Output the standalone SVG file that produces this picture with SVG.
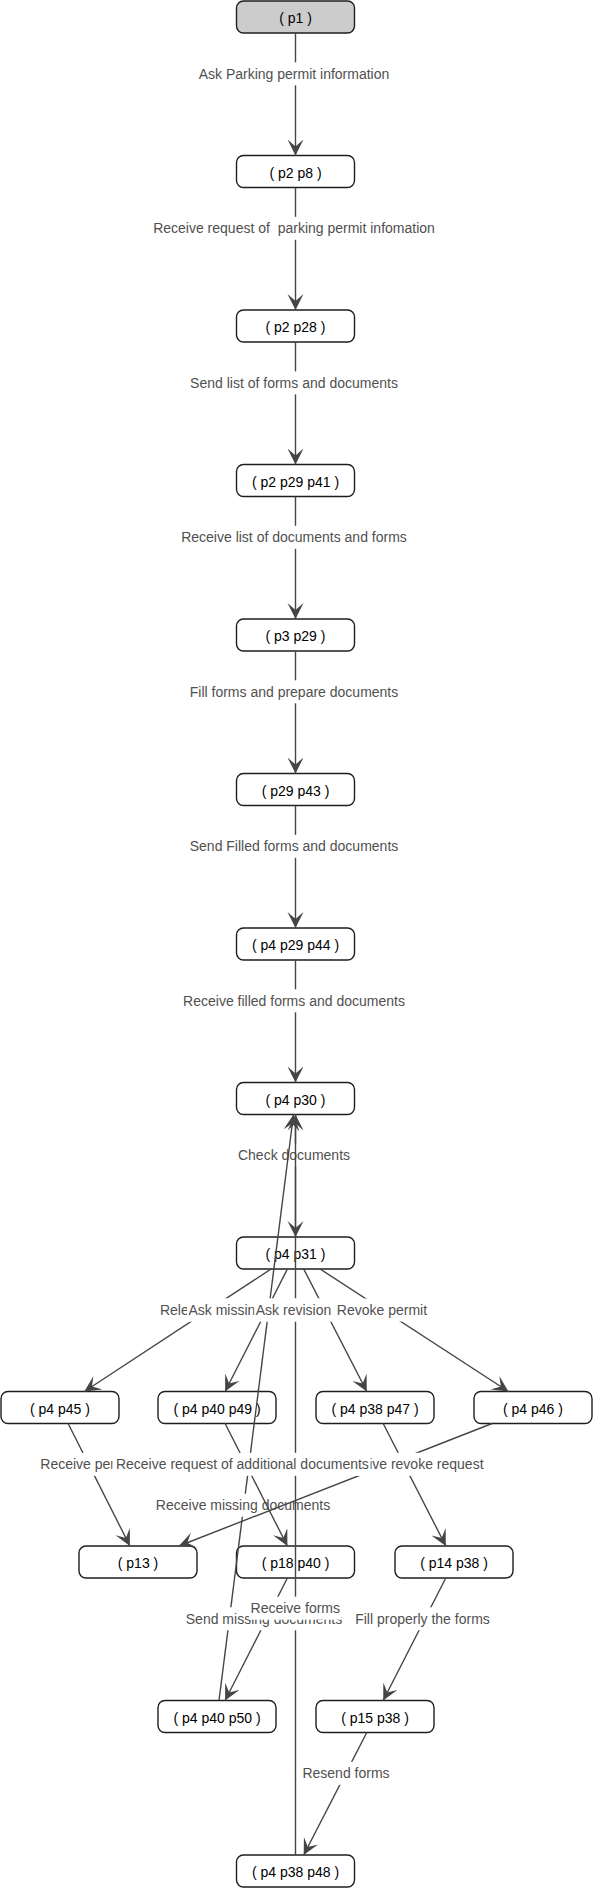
<svg xmlns="http://www.w3.org/2000/svg" width="593" height="1889" viewBox="0 0 593 1889">
<style>
.node rect{fill:#fff;stroke:#1e1e1e;stroke-width:1.4}
#n_p1 rect{fill:#cccccc}
.node text{font-family:"Liberation Sans",Arial,sans-serif;font-size:14px;fill:#000;text-anchor:middle}
.e{stroke:#454545;stroke-width:1.4;fill:none;marker-end:url(#arr)}
.lb{fill:#fff}
.lt{font-family:"Liberation Sans",Arial,sans-serif;font-size:14px;fill:#505050;text-anchor:middle}
</style>
<defs>
<marker id="arr" markerWidth="18" markerHeight="18" refX="16" refY="8" orient="auto" markerUnits="userSpaceOnUse">
<path d="M16,8 L0,0 L7,8 L0,16 Z" fill="#454545"/>
</marker>
</defs>
<g id="nodes">
<g id="n_p1" class="node"><rect x="236.5" y="1" width="118" height="32" rx="7"/><text x="295.5" y="23">( p1 )</text></g>
<g id="n_p2p8" class="node"><rect x="236.5" y="155.5" width="118" height="32" rx="7"/><text x="295.5" y="177.5">( p2 p8 )</text></g>
<g id="n_p2p28" class="node"><rect x="236.5" y="310" width="118" height="32" rx="7"/><text x="295.5" y="332">( p2 p28 )</text></g>
<g id="n_p2p29p41" class="node"><rect x="236.5" y="464.5" width="118" height="32" rx="7"/><text x="295.5" y="486.5">( p2 p29 p41 )</text></g>
<g id="n_p3p29" class="node"><rect x="236.5" y="619" width="118" height="32" rx="7"/><text x="295.5" y="641">( p3 p29 )</text></g>
<g id="n_p29p43" class="node"><rect x="236.5" y="773.5" width="118" height="32" rx="7"/><text x="295.5" y="795.5">( p29 p43 )</text></g>
<g id="n_p4p29p44" class="node"><rect x="236.5" y="928" width="118" height="32" rx="7"/><text x="295.5" y="950">( p4 p29 p44 )</text></g>
<g id="n_p4p30" class="node"><rect x="236.5" y="1082.5" width="118" height="32" rx="7"/><text x="295.5" y="1104.5">( p4 p30 )</text></g>
<g id="n_p4p31" class="node"><rect x="236.5" y="1237" width="118" height="32" rx="7"/><text x="295.5" y="1259">( p4 p31 )</text></g>
<g id="n_p4p45" class="node"><rect x="1" y="1391.5" width="118" height="32" rx="7"/><text x="60" y="1413.5">( p4 p45 )</text></g>
<g id="n_p4p40p49" class="node"><rect x="158" y="1391.5" width="118" height="32" rx="7"/><text x="217" y="1413.5">( p4 p40 p49 )</text></g>
<g id="n_p4p38p47" class="node"><rect x="316" y="1391.5" width="118" height="32" rx="7"/><text x="375" y="1413.5">( p4 p38 p47 )</text></g>
<g id="n_p4p46" class="node"><rect x="474" y="1391.5" width="118" height="32" rx="7"/><text x="533" y="1413.5">( p4 p46 )</text></g>
<g id="n_p13" class="node"><rect x="79" y="1546" width="118" height="32" rx="7"/><text x="138" y="1568">( p13 )</text></g>
<g id="n_p18p40" class="node"><rect x="236.5" y="1546" width="118" height="32" rx="7"/><text x="295.5" y="1568">( p18 p40 )</text></g>
<g id="n_p14p38" class="node"><rect x="395" y="1546" width="118" height="32" rx="7"/><text x="454" y="1568">( p14 p38 )</text></g>
<g id="n_p4p40p50" class="node"><rect x="158" y="1700.5" width="118" height="32" rx="7"/><text x="217" y="1722.5">( p4 p40 p50 )</text></g>
<g id="n_p15p38" class="node"><rect x="316" y="1700.5" width="118" height="32" rx="7"/><text x="375" y="1722.5">( p15 p38 )</text></g>
<g id="n_p4p38p48" class="node"><rect x="236.5" y="1855" width="118" height="32" rx="7"/><text x="295.5" y="1877">( p4 p38 p48 )</text></g>
</g>
<g id="connectors">
<line class="e" x1="295.5" y1="33" x2="295.5" y2="155.5"/>
<rect class="lb" x="197.2" y="62.3" width="193.6" height="23"/><text class="lt" x="294" y="78.8">Ask Parking permit information</text>
<line class="e" x1="295.5" y1="187.5" x2="295.5" y2="310"/>
<rect class="lb" x="151.6" y="216.8" width="284.7" height="23"/><text class="lt" x="294" y="233.3" xml:space="preserve">Receive request of  parking permit infomation</text>
<line class="e" x1="295.5" y1="342" x2="295.5" y2="464.5"/>
<rect class="lb" x="188.6" y="371.3" width="210.8" height="23"/><text class="lt" x="294" y="387.8">Send list of forms and documents</text>
<line class="e" x1="295.5" y1="496.5" x2="295.5" y2="619"/>
<rect class="lb" x="179.7" y="525.8" width="228.6" height="23"/><text class="lt" x="294" y="542.3">Receive list of documents and forms</text>
<line class="e" x1="295.5" y1="651" x2="295.5" y2="773.5"/>
<rect class="lb" x="188.2" y="680.3" width="211.5" height="23"/><text class="lt" x="294" y="696.8">Fill forms and prepare documents</text>
<line class="e" x1="295.5" y1="805.5" x2="295.5" y2="928"/>
<rect class="lb" x="188.2" y="834.8" width="211.5" height="23"/><text class="lt" x="294" y="851.3">Send Filled forms and documents</text>
<line class="e" x1="295.5" y1="960" x2="295.5" y2="1082.5"/>
<rect class="lb" x="181.6" y="989.3" width="224.7" height="23"/><text class="lt" x="294" y="1005.8">Receive filled forms and documents</text>
<line class="e" x1="295.5" y1="1114.5" x2="295.5" y2="1237"/>
<rect class="lb" x="236.5" y="1143.8" width="115" height="23"/><text class="lt" x="294" y="1160.3">Check documents</text>
<line class="e" x1="219" y1="1700.5" x2="293.5" y2="1114.5"/>
<rect class="lb" x="154.3" y="1493.7" width="177.3" height="23"/><text class="lt" x="243" y="1510.2">Receive missing documents</text>
<line class="e" x1="295.5" y1="1855" x2="295.5" y2="1114.5"/>
<line class="e" x1="271.1" y1="1269" x2="84.4" y2="1391.5"/>
<line class="e" x1="287.4" y1="1269" x2="225.1" y2="1391.5"/>
<line class="e" x1="303.7" y1="1269" x2="366.8" y2="1391.5"/>
<line class="e" x1="320.1" y1="1269" x2="508.4" y2="1391.5"/>
<line class="e" x1="68.1" y1="1423.5" x2="129.9" y2="1546"/>
<line class="e" x1="225.1" y1="1423.5" x2="287.4" y2="1546"/>
<line class="e" x1="383.2" y1="1423.5" x2="445.8" y2="1546"/>
<line class="e" x1="492.1" y1="1423.5" x2="178.9" y2="1546"/>
<line class="e" x1="287.4" y1="1578" x2="225.1" y2="1700.5"/>
<line class="e" x1="445.8" y1="1578" x2="383.2" y2="1700.5"/>
<line class="e" x1="366.8" y1="1732.5" x2="303.7" y2="1855"/>
<rect class="lb" x="158.4" y="1298.5" width="97.1" height="23"/><text class="lt" x="207" y="1315">Release permit</text>
<rect class="lb" x="187" y="1298.5" width="150" height="23"/><text class="lt" x="262" y="1315">Ask missing documents</text>
<rect class="lb" x="254.2" y="1298.5" width="78.5" height="23"/><text class="lt" x="293.5" y="1315">Ask revision</text>
<rect class="lb" x="331.9" y="1298.5" width="100.2" height="23"/><text class="lt" x="382" y="1315">Revoke permit</text>
<rect class="lb" x="335" y="1452.8" width="150" height="23"/><text class="lt" x="410" y="1469.3">Receive revoke request</text>
<rect class="lb" x="38.8" y="1452.8" width="96.4" height="23"/><text class="lt" x="87" y="1469.3">Receive permit</text>
<rect class="lb" x="112.5" y="1452.8" width="258" height="23"/><text class="lt" x="242.4" y="1469.3">Receive request of additional documents</text>
<rect class="lb" x="184.3" y="1607.3" width="159.4" height="23"/><text class="lt" x="264" y="1623.8">Send missing documents</text>
<rect class="lb" x="249" y="1596.7" width="92.5" height="23"/><text class="lt" x="295.3" y="1613.2">Receive forms</text>
<rect class="lb" x="353.7" y="1607.3" width="137.6" height="23"/><text class="lt" x="422.5" y="1623.8">Fill properly the forms</text>
<rect class="lb" x="301" y="1761.8" width="90.1" height="23"/><text class="lt" x="346" y="1778.3">Resend forms</text>
</g>
</svg>
